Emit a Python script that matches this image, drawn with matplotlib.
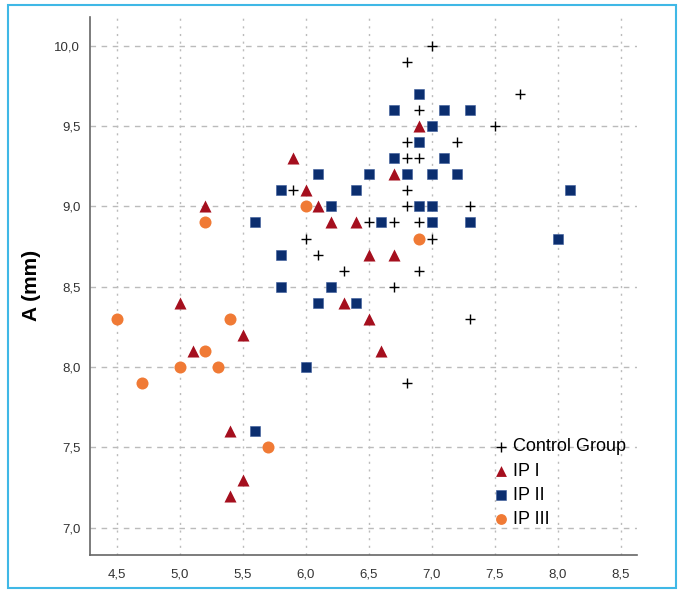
import matplotlib
matplotlib.use("Agg")
import matplotlib.pyplot as plt
from matplotlib.patches import Rectangle
from matplotlib.ticker import FuncFormatter, MultipleLocator

plt.rcParams["font.family"] = ["Liberation Sans", "DejaVu Sans"]

# values
control_x = [7.0, 6.8, 7.7, 6.9, 7.5, 6.8, 7.2, 6.8, 6.9, 5.9, 6.8, 6.8, 7.3,
             6.5, 6.7, 6.9, 6.0, 7.0, 6.1, 6.3, 6.9, 6.7, 7.3, 6.8]
control_y = [10.0, 9.9, 9.7, 9.6, 9.5, 9.4, 9.4, 9.3, 9.3, 9.1, 9.1, 9.0, 9.0,
             8.9, 8.9, 8.9, 8.8, 8.8, 8.7, 8.6, 8.6, 8.5, 8.3, 7.9]

ip1_x = [6.9, 5.9, 6.7, 6.0, 6.1, 5.2, 6.2, 6.4, 6.5, 6.7, 6.3, 5.0, 6.5,
         5.5, 6.6, 5.1, 5.4, 5.5, 5.4]
ip1_y = [9.5, 9.3, 9.2, 9.1, 9.0, 9.0, 8.9, 8.9, 8.7, 8.7, 8.4, 8.4, 8.3,
         8.2, 8.1, 8.1, 7.6, 7.3, 7.2]

ip2_x = [6.9, 6.7, 7.1, 7.3, 7.0, 6.9, 6.7, 7.1, 6.1, 6.5, 6.8, 7.0, 7.2,
         5.8, 6.4, 8.1, 6.2, 6.9, 7.0, 5.6, 6.6, 7.0, 7.3, 5.8, 8.0, 5.8,
         6.2, 6.1, 6.4, 6.0, 5.6]
ip2_y = [9.7, 9.6, 9.6, 9.6, 9.5, 9.4, 9.3, 9.3, 9.2, 9.2, 9.2, 9.2, 9.2,
         9.1, 9.1, 9.1, 9.0, 9.0, 9.0, 8.9, 8.9, 8.9, 8.9, 8.7, 8.8, 8.5,
         8.5, 8.4, 8.4, 8.0, 7.6]

ip3_x = [6.0, 6.9, 5.2, 4.5, 5.4, 5.2, 5.0, 5.3, 4.7, 5.7]
ip3_y = [9.0, 8.8, 8.9, 8.3, 8.3, 8.1, 8.0, 8.0, 7.9, 7.5]

fig = plt.figure(figsize=(6.82, 5.92), dpi=100)
ax = fig.add_axes([0.132, 0.0625, 0.802, 0.909])

ax.scatter(control_x, control_y, marker="+", s=55, c="black", linewidths=1.0,
           label="Control Group", zorder=3)
ax.scatter(ip1_x, ip1_y, marker="^", s=75, c="#A50F1E", linewidths=0,
           label="IP I", zorder=3)
ax.scatter(ip2_x, ip2_y, marker="s", s=62, c="#0B2E6F", edgecolors="#3a5a9a",
           linewidths=0.4, label="IP II", zorder=3)
ax.scatter(ip3_x, ip3_y, marker="o", s=75, c="#F07A35", linewidths=0,
           label="IP III", zorder=3)

ax.set_xlim(4.286, 8.63)
ax.set_ylim(6.83, 10.18)
ax.xaxis.set_major_locator(MultipleLocator(0.5))
ax.yaxis.set_major_locator(MultipleLocator(0.5))
comma = FuncFormatter(lambda v, p: f"{v:.1f}".replace(".", ","))
ax.xaxis.set_major_formatter(comma)
ax.yaxis.set_major_formatter(comma)
ax.tick_params(length=0, pad=7, labelsize=9.5, colors="#333333")
ax.tick_params(axis="x", pad=10)

ax.grid(axis="x", color="#bbbbbb", linestyle=(0, (1.5, 4)), linewidth=1.0)
ax.grid(axis="y", color="#bbbbbb", linestyle=(0, (4, 4)), linewidth=1.0)
ax.set_axisbelow(True)

for side in ["top", "right"]:
    ax.spines[side].set_visible(False)
for side in ["left", "bottom"]:
    ax.spines[side].set_color("#666666")
    ax.spines[side].set_linewidth(1.2)

ax.set_ylabel("A (mm)", fontsize=15, fontweight="bold", labelpad=10)

ax.legend(loc="lower right", bbox_to_anchor=(1.0, 0.03), frameon=False,
          fontsize=13, handletextpad=0.2, borderaxespad=0.2, labelspacing=0.4,
          handlelength=1.0, markerscale=0.9)

fig.patches.append(Rectangle((8 / 682, 4 / 592), 668 / 682, 583 / 592,
                             transform=fig.transFigure, fill=False,
                             edgecolor="#3FB8E6", linewidth=1.5))

fig.savefig("out.png", dpi=100)
